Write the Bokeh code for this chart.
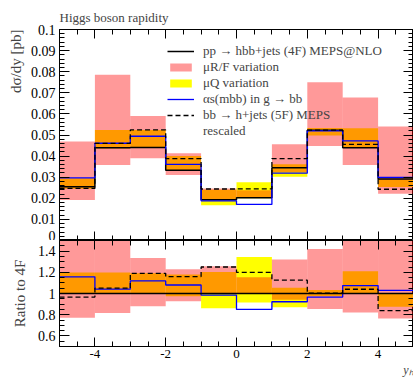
from bokeh.plotting import figure
from bokeh.layouts import column
from bokeh.models import Range1d, LinearAxis, FixedTicker, Legend, LegendItem, Title
from bokeh.embed import file_html
from bokeh.resources import INLINE

# ---------------- data ----------------
bin_edges = [-5, -4, -3, -2, -1, 0, 1, 2, 3, 4, 5]

# top panel: dsigma/dy [pb]
nlo_4f     = [0.0255, 0.0439, 0.0441, 0.0333, 0.0193, 0.0203, 0.0345, 0.0523, 0.0440, 0.0291]
alphas_mbb = [0.0297, 0.0461, 0.0494, 0.0361, 0.0188, 0.0171, 0.0319, 0.0520, 0.0472, 0.0299]
meps_5f    = [0.0247, 0.0460, 0.0524, 0.0388, 0.0244, 0.0245, 0.0388, 0.0523, 0.0456, 0.0243]
murf_lo    = [0.0192, 0.0358, 0.0390, 0.0310, 0.0195, 0.0205, 0.0323, 0.0448, 0.0358, 0.0222]
murf_hi    = [0.0469, 0.0786, 0.0590, 0.0414, 0.0247, 0.0238, 0.0456, 0.0750, 0.0678, 0.0540]
muq_lo     = [0.0245, 0.0436, 0.0441, 0.0333, 0.0167, 0.0200, 0.0302, 0.0498, 0.0440, 0.0253]
muq_hi     = [0.0295, 0.0524, 0.0524, 0.0400, 0.0241, 0.0276, 0.0361, 0.0533, 0.0532, 0.0290]

# ratio panel: ratio to 4F
r_4f       = [1.0, 1.0, 1.0, 1.0, 1.0, 1.0, 1.0, 1.0, 1.0, 1.0]
r_alphas   = [1.157, 1.041, 1.119, 1.080, 0.985, 0.850, 0.922, 0.966, 1.075, 1.030]
r_meps_5f  = [0.966, 1.050, 1.190, 1.160, 1.250, 1.200, 1.126, 1.003, 1.040, 0.838]
r_murf_lo  = [0.772, 0.816, 0.880, 0.928, 1.000, 1.000, 0.940, 0.853, 0.820, 0.765]
r_murf_hi  = [1.840, 1.790, 1.335, 1.229, 1.257, 1.154, 1.320, 1.420, 1.540, 1.860]
r_muq_lo   = [1.000, 1.000, 1.000, 0.975, 0.860, 0.916, 0.870, 0.975, 1.000, 0.875]
r_muq_hi   = [1.197, 1.197, 1.190, 1.180, 1.204, 1.345, 1.054, 1.032, 1.210, 1.000]

# ticks
x_major = [-4, -2, 0, 2, 4]
x_labels = ["-4", "-2", "0", "2", "4"]
top_y_major = [0.0, 0.01, 0.02, 0.03, 0.04, 0.05, 0.06, 0.07, 0.08, 0.09, 0.1]
top_y_labels = ["0", "0.01", "0.02", "0.03", "0.04", "0.05", "0.06", "0.07", "0.08", "0.09", "0.1"]
ratio_y_major = [0.6, 0.8, 1.0, 1.2, 1.4]
ratio_y_labels = ["0.6", "0.8", "1", "1.2", "1.4"]

labels_legend = [
    "pp \u2192 hbb+jets (4F) MEPS@NLO",
    "\u03bcR/F variation",
    "\u03bcQ variation",
    "\u03b1s(mbb) in g \u2192 bb",
    "bb \u2192 h+jets (5F) MEPS",
    "rescaled",
]
title_text = "Higgs boson rapidity"
ylabel_top = "d\u03c3/dy [pb]"
ylabel_ratio = "Ratio to 4F"
xlabel = "y\u2095"

FONT = "'Liberation Serif'"
x_minor = [v / 2 for v in range(-9, 10) if v % 4 != 0]
top_y_minor = [round(i * 0.002, 3) for i in range(51) if i % 5 != 0]
ratio_y_minor = [round(0.5 + i * 0.05, 2) for i in range(21) if i % 4 != 2]


def ext(v):
    return list(v) + [v[-1]]


def setup_axis(ax, major, minor, labels=None, maj=10, mnr=5):
    ax.ticker = FixedTicker(ticks=major, minor_ticks=minor)
    ax.major_tick_in = maj
    ax.major_tick_out = 0
    ax.minor_tick_in = mnr
    ax.minor_tick_out = 0
    ax.axis_line_color = "black"
    ax.major_tick_line_color = "black"
    ax.minor_tick_line_color = "black"
    if labels is not None:
        ax.major_label_overrides = {float(k): l for k, l in zip(major, labels)}
        ax.major_label_text_font = FONT
        ax.major_label_text_font_size = "14px"
        ax.major_label_text_color = "black"
        ax.major_label_standoff = 4
    else:
        ax.major_label_text_font_size = "0px"
        ax.major_label_text_color = None
        ax.major_label_standoff = 0


x_range = Range1d(-5, 5)
left = bin_edges[:-1]
right = bin_edges[1:]

# ---------------- top panel ----------------
p1 = figure(width=413, height=240, x_range=x_range, y_range=Range1d(0, 0.1),
            output_backend="svg", toolbar_location=None, title=None,
            min_border_left=59, min_border_right=0, min_border_top=29, min_border_bottom=0)
p1.xgrid.visible = False
p1.ygrid.visible = False
p1.outline_line_color = "black"

q_y = p1.quad(left=left, right=right, bottom=muq_lo, top=muq_hi, fill_color="#ffff00", line_color=None)
q_r = p1.quad(left=left, right=right, bottom=murf_lo, top=murf_hi, fill_color="#ff0000", fill_alpha=0.4, line_color=None)
l_4f = p1.step(bin_edges, ext(nlo_4f), mode="after", line_color="black", line_width=1.5)
l_al = p1.step(bin_edges, ext(alphas_mbb), mode="after", line_color="#0000ff", line_width=1.3)
l_5f = p1.step(bin_edges, ext(meps_5f), mode="after", line_color="black", line_width=1.3, line_dash="5 3")
l_blank = p1.step(bin_edges, ext(meps_5f), mode="after", line_color="black", line_alpha=0)

setup_axis(p1.yaxis[0], top_y_major, top_y_minor, top_y_labels, maj=10, mnr=5)
setup_axis(p1.xaxis[0], x_major, x_minor, None, maj=9, mnr=5)
ax_r = LinearAxis()
setup_axis(ax_r, top_y_major, top_y_minor, None, maj=10, mnr=5)
p1.add_layout(ax_r, "right")
ax_t = LinearAxis()
setup_axis(ax_t, x_major, x_minor, None, maj=9, mnr=5)
p1.add_layout(ax_t, "above")

# invisible spacer axis: only reserves a few pixels so the title sits higher
spacer = LinearAxis()
setup_axis(spacer, x_major, [], None, maj=0, mnr=0)
spacer.major_tick_out = 5
spacer.axis_line_color = None
spacer.major_tick_line_color = None
spacer.minor_tick_line_color = None
p1.add_layout(spacer, "above")

legend = Legend(items=[
    LegendItem(label=labels_legend[0], renderers=[l_4f]),
    LegendItem(label=labels_legend[1], renderers=[q_r]),
    LegendItem(label=labels_legend[2], renderers=[q_y]),
    LegendItem(label=labels_legend[3], renderers=[l_al]),
    LegendItem(label=labels_legend[4], renderers=[l_5f]),
    LegendItem(label=labels_legend[5], renderers=[l_blank]),
], location=(108, 101), padding=0, margin=0, spacing=0,
    glyph_width=27, glyph_height=10, label_height=16, label_standoff=9,
    background_fill_alpha=0, border_line_alpha=0,
    label_text_font=FONT, label_text_font_size="13px")
p1.add_layout(legend)

p1.add_layout(Title(text=title_text, align="left", text_font=FONT,
                    text_font_size="13px", text_font_style="normal", standoff=0), "above")
p1.add_layout(Title(text=ylabel_top, align="right", text_font=FONT, text_font_size="15px",
                    text_font_style="normal", standoff=8), "left")

# ---------------- ratio panel ----------------
p2 = figure(width=413, height=137, x_range=x_range, y_range=Range1d(0.5, 1.5),
            output_backend="svg", toolbar_location=None, title=None,
            min_border_left=59, min_border_right=0, min_border_top=0, min_border_bottom=31)
p2.xgrid.visible = False
p2.ygrid.visible = False
p2.outline_line_color = "black"

p2.quad(left=left, right=right, bottom=r_muq_lo, top=r_muq_hi, fill_color="#ffff00", line_color=None)
p2.quad(left=left, right=right, bottom=r_murf_lo, top=r_murf_hi, fill_color="#ff0000", fill_alpha=0.4, line_color=None)
p2.step(bin_edges, ext(r_alphas), mode="after", line_color="#0000ff", line_width=1.3)
p2.step(bin_edges, ext(r_4f), mode="after", line_color="black", line_width=1.5)
p2.step(bin_edges, ext(r_meps_5f), mode="after", line_color="black", line_width=1.3, line_dash="5 3")

setup_axis(p2.yaxis[0], ratio_y_major, ratio_y_minor, ratio_y_labels, maj=10, mnr=5)
setup_axis(p2.xaxis[0], x_major, x_minor, x_labels, maj=9, mnr=5)
p2.xaxis[0].major_label_text_font_size = "13px"
p2.xaxis[0].major_label_standoff = 3
ax_r2 = LinearAxis()
setup_axis(ax_r2, ratio_y_major, ratio_y_minor, None, maj=10, mnr=5)
p2.add_layout(ax_r2, "right")
ax_t2 = LinearAxis()
setup_axis(ax_t2, x_major, x_minor, None, maj=9, mnr=5)
p2.add_layout(ax_t2, "above")

p2.add_layout(Title(text=ylabel_ratio, align="center", text_font=FONT, text_font_size="15px",
                    text_font_style="normal", standoff=14), "left")
p2.add_layout(Title(text=xlabel, align="right", text_font=FONT, text_font_size="12px",
                    text_font_style="italic", standoff=0), "below")

layout = column(p1, p2, spacing=0)
open("out.html", "w").write(file_html(layout, INLINE))
